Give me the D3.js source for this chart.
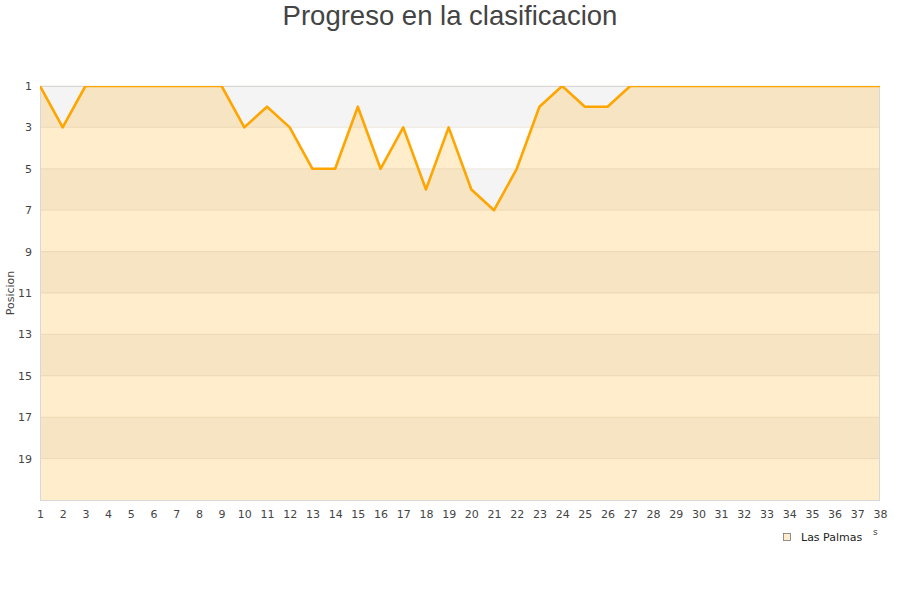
<!DOCTYPE html>
<html><head><meta charset="utf-8">
<script src="https://cdn.jsdelivr.net/npm/d3@7"></script>
<style>body{margin:0;background:#fff}</style>
</head><body>
<svg id="c" width="900" height="600"></svg>
<script>
const title = "Progreso en la clasificacion";
const yLabel = "Posicion";
const seriesName = "Las Palmas";
const jornadas = d3.range(1, 39);
const posiciones = [1,3,1,1,1,1,1,1,1,3,2,3,5,5,2,5,3,6,3,6,7,5,2,1,2,2,1,1,1,1,1,1,1,1,1,1,1,1];
const yTicks = [1,3,5,7,9,11,13,15,17,19];

const svg = d3.select("#c");
const L = 40, R = 880, T = 86, B = 500;
const x = d3.scaleLinear().domain([1, 38]).range([L, R]);
const y = d3.scaleLinear().domain([1, 21]).range([T, B]);
const data = jornadas.map((j, i) => ({j, p: posiciones[i]}));

svg.append("defs").append("clipPath").attr("id","clip")
  .append("rect").attr("x", L).attr("y", T).attr("width", R-L).attr("height", B-T);

// bands
const bands = d3.range(1, 21, 2);
svg.append("g").selectAll("rect").data(bands).join("rect")
  .attr("x", L).attr("width", R-L)
  .attr("y", d => y(d)).attr("height", d => y(d+2)-y(d))
  .attr("fill", (d,i) => i % 2 === 0 ? "#f4f4f4" : "#ffffff");

// area
const area = d3.area().x(d => x(d.j)).y0(B).y1(d => y(d.p));
svg.append("path").datum(data).attr("d", area)
  .attr("fill", "rgba(255,165,0,0.2)");

// grid
svg.append("g").selectAll("line").data(yTicks).join("line")
  .attr("x1", L).attr("x2", R).attr("y1", d => y(d)).attr("y2", d => y(d))
  .attr("stroke", "rgba(180,150,100,0.18)").attr("stroke-width", 1);

// border
svg.append("rect").attr("x", L+0.5).attr("y", T+0.5).attr("width", R-L-1).attr("height", B-T)
  .attr("fill", "none").attr("stroke", "#d8d8d8");

// line
const line = d3.line().x(d => x(d.j)).y(d => y(d.p));
svg.append("path").datum(data).attr("d", line)
  .attr("clip-path", "url(#clip)")
  .attr("fill", "none").attr("stroke", "#ffa500").attr("stroke-width", 2.6)
  .attr("stroke-linejoin", "round");

// axes
const font = "DejaVu Sans, sans-serif";
const yAxis = d3.axisLeft(y).tickValues(yTicks).tickSize(0).tickPadding(8);
const gy = svg.append("g").attr("transform", `translate(${L},0)`).call(yAxis);
gy.select(".domain").remove();
gy.selectAll("text").attr("font-family", font).attr("font-size", 11).attr("fill", "#444");

const xAxis = d3.axisBottom(x).tickValues(jornadas).tickSize(0).tickPadding(10);
const gx = svg.append("g").attr("transform", `translate(0,${B})`).call(xAxis);
gx.select(".domain").remove();
gx.selectAll("text").attr("font-family", font).attr("font-size", 11).attr("fill", "#444");

// title
svg.append("text").attr("x", 450).attr("y", 25).attr("text-anchor", "middle")
  .attr("font-family", "Liberation Sans, Arial, sans-serif").attr("font-size", 27.5)
  .attr("fill", "#444").text(title);

// y label
svg.append("text").attr("transform", "translate(14,293) rotate(-90)")
  .attr("text-anchor", "middle").attr("font-family", font).attr("font-size", 11)
  .attr("fill", "#444").text(yLabel);

// x title remnant
svg.append("text").attr("x", 873).attr("y", 535).attr("font-family", font)
  .attr("font-size", 9).attr("fill", "#444").text("s");

// legend
svg.append("rect").attr("x", 783.5).attr("y", 533.5).attr("width", 7).attr("height", 7)
  .attr("fill", "#feeccc").attr("stroke", "#777").attr("stroke-width", 0.8);
svg.append("text").attr("x", 801).attr("y", 541).attr("font-family", font)
  .attr("font-size", 11).attr("fill", "#222").text(seriesName);
</script>
</body></html>
